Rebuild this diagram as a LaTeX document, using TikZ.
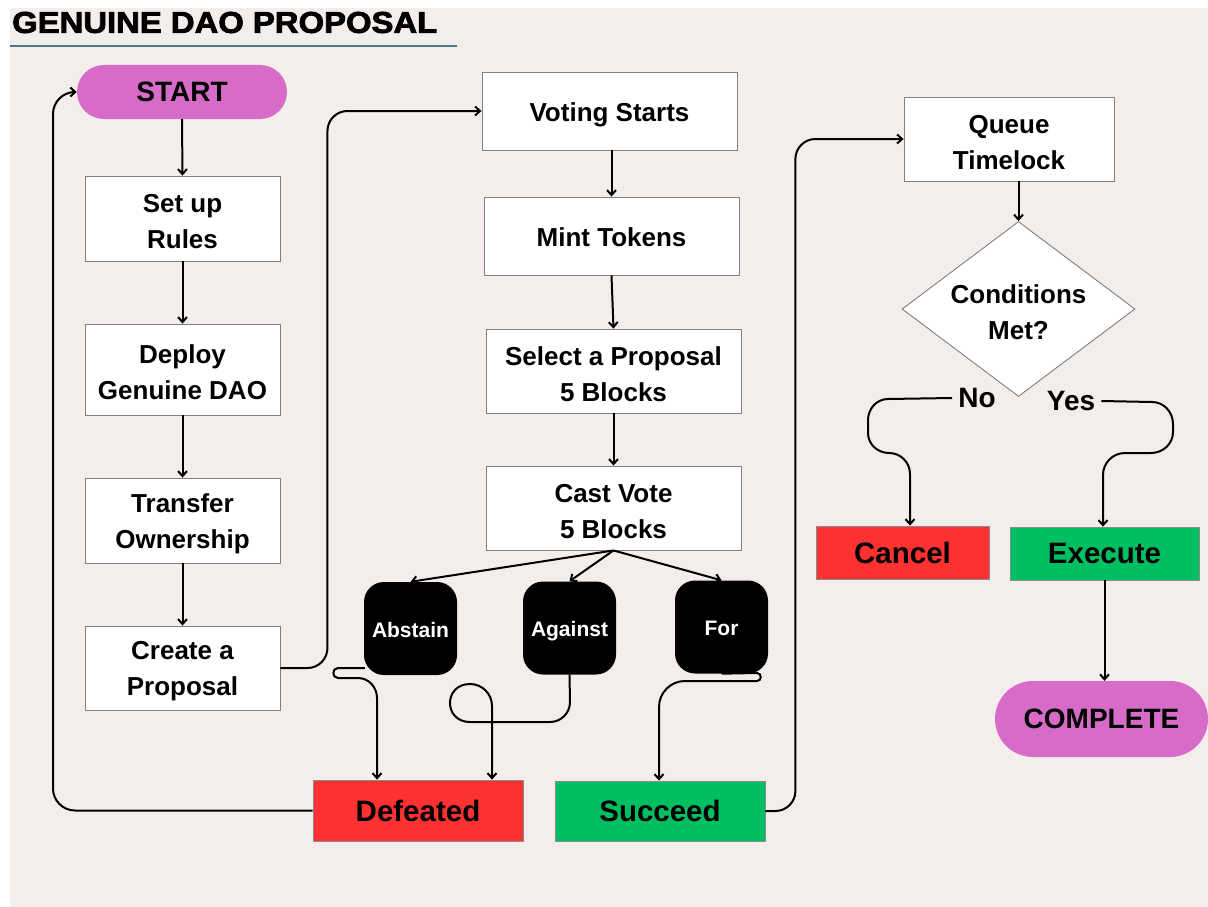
\documentclass[tikz,border=0pt]{standalone}
\usepackage{fontspec}
\setmainfont{Liberation Sans}
\newfontfamily\titlefont{Liberation Sans}[BoldFeatures={FakeBold=2.5}]
\usetikzlibrary{arrows.meta,calc,shapes.geometric}

\definecolor{paper}{HTML}{F3EEEB}
\definecolor{orchid}{HTML}{D66BC8}
\definecolor{failred}{HTML}{FF3131}
\definecolor{passgreen}{HTML}{00BF63}
\definecolor{rulecol}{HTML}{4D7A88}
\definecolor{boxline}{HTML}{808080}

\newcommand\boxfont{\fontsize{26}{36}\selectfont\bfseries}
\newcommand\votefont{\fontsize{21}{26}\selectfont\bfseries}
\newcommand\bigfont{\fontsize{29.5}{36}\selectfont\bfseries}

\tikzset{
  stepbox/.style={draw=boxline, fill=white, line width=0.9pt, inner sep=0pt,
    align=center, font=\boxfont},
  oneline/.style={text height=21pt, text depth=0pt},
  votebox/.style={fill=black, text=white, rounded corners=20pt, inner sep=0pt,
    text height=17pt, text depth=0pt,
    minimum width=93pt, minimum height=93pt, font=\votefont},
  outcome/.style={draw=black!45, line width=0.8pt, inner sep=0pt, font=\bigfont},
  pill/.style={fill=orchid, inner sep=0pt, font=\fontsize{28}{34}\selectfont\bfseries},
  arr/.style={line width=2pt, -{Straight Barb[length=5pt,width=9pt]}},
}

\begin{document}
\begin{tikzpicture}[x=1pt,y=-1pt]
\fill[white] (0,0) rectangle (1208,907);
\fill[paper] (10,8) rectangle (1208,907);
\useasboundingbox (0,0) rectangle (1208,907);

% heading
\node[anchor=west, inner sep=0pt] (title) at (12,22.5)
  {\resizebox{425pt}{21pt}{\titlefont\bfseries GENUINE DAO PROPOSAL}};
\draw[rulecol, line width=2pt] (10,46) -- (457,46);

% setup column
\node[pill, rounded corners=27pt, minimum width=210pt, minimum height=54pt] (start) at (182,92) {START};
\node[stepbox, minimum width=195pt, minimum height=85pt] (setup) at (182.5,218.5) {\strut Set up\\Rules};
\node[stepbox, minimum width=195pt, minimum height=91pt] (deploy) at (182.5,369.5) {\strut Deploy\\Genuine DAO};
\node[stepbox, minimum width=195pt, minimum height=85pt] (transfer) at (182.5,520.5) {\strut Transfer\\Ownership};
\node[stepbox, minimum width=195pt, minimum height=84pt] (create) at (182.5,668) {\strut Create a\\Proposal};

% voting column
\node[stepbox, oneline, minimum width=255pt, minimum height=78pt] (voting) at (609.5,111) {Voting Starts};
\node[stepbox, oneline, minimum width=255pt, minimum height=78pt] (mint) at (611.5,236) {Mint Tokens};
\node[stepbox, minimum width=255pt, minimum height=84pt] (select) at (613.5,371) {\strut Select a Proposal\\5 Blocks};
\node[stepbox, minimum width=255pt, minimum height=84pt] (cast) at (613.5,508) {\strut Cast Vote\\5 Blocks};

\node[votebox] (abstain) at (410.5,628.5) {Abstain};
\node[votebox] (against) at (569.5,628) {Against};
\node[votebox] (for) at (721.5,627) {For};

\node[outcome, fill=failred, minimum width=210pt, minimum height=61pt] (defeated) at (418,810.5) {Defeated};
\node[outcome, fill=passgreen, minimum width=210pt, minimum height=60pt] (succeed) at (660,811) {Succeed};

% execution column
\node[stepbox, minimum width=210pt, minimum height=84pt] (queue) at (1009,139) {\strut Queue\\Timelock};
\node[diamond, aspect=1.33, draw=boxline, fill=white, line width=0.9pt, inner sep=0pt,
  minimum width=233pt, minimum height=175pt, align=center, font=\boxfont] (cond) at (1018.5,309) {\strut Conditions\\Met?};
\node[inner sep=6pt, font=\fontsize{28}{34}\selectfont\bfseries] (no) at (977,398) {No};
\node[inner sep=6pt, font=\fontsize{28}{34}\selectfont\bfseries] (yes) at (1071,401) {Yes};
\node[outcome, fill=failred, minimum width=173pt, minimum height=53pt] (cancel) at (902.5,552.5) {Cancel};
\node[outcome, fill=passgreen, minimum width=189pt, minimum height=53pt] (execute) at (1104.5,553.5) {Execute};
\node[pill, rounded corners=38pt, minimum width=213pt, minimum height=76pt] (complete) at (1101.5,719) {COMPLETE};

% straight flow
\draw[arr] (start.south) -- (setup.north);
\draw[arr] (setup.south) -- (deploy.north);
\draw[arr] (deploy.south) -- (transfer.north);
\draw[arr] (transfer.south) -- (create.north);
\draw[arr] (mint.north |- voting.south) -- (mint.north);
\draw[arr] (mint.south) -- (select.north);
\draw[arr] (select.south) -- (cast.north);
\draw[arr] (queue.south -| cond.north) -- (cond.north);
\draw[arr] (execute.south) -- (execute.south |- complete.north);

% routed connectors
\draw[arr, rounded corners=20pt] (create.east) -- ++(47,0) |- (voting.west);
\draw[arr, rounded corners=20pt] (succeed.east) -- ++(30,0) |- (queue.west);
\draw[arr, rounded corners=22pt] (defeated.west) -- (53,810.5) -- (53,92) -- (start.west);

% votes fan out
\draw[arr] (cast.south) -- (abstain.north);
\draw[arr] (cast.south) -- (against.north);
\draw[arr] (cast.south) -- (for.north);

% votes to result (angles are screen angles: 270 = down, 90 = up)
\draw[arr] ($(abstain.south west)+(1,-7)$) -- (338,668)
  to[out=180,in=180,looseness=1.6] (338,678) -- (358,678)
  to[out=0,in=90] (377,698) -- (377,0 |- defeated.north);
\draw[arr] (against.south) -- (570,702) to[out=270,in=0] (550,722) -- (470,722)
  to[out=180,in=180,looseness=1.8] (470,684) to[out=0,in=90] (492,706)
  -- (492,0 |- defeated.north);
\draw[arr] (for.south) -- (757,673) to[out=0,in=0,looseness=1.6] (757,681) -- (685,681)
  to[out=180,in=90] (659,707) -- (659,0 |- succeed.north);

% decision branches
\draw[arr] (no.west) -- (888,399) to[out=180,in=90] (868,420) -- (868,433)
  to[out=270,in=180] (889,453) to[out=0,in=90] (910,474) -- (910,0 |- cancel.north);
\draw[arr] (yes.east) -- (1152,402) to[out=0,in=90] (1173,424) -- (1173,432)
  to[out=270,in=0] (1151,453) -- (1125,453) to[out=180,in=90] (1103,475)
  -- (1103,0 |- execute.north);
\end{tikzpicture}
\end{document}
